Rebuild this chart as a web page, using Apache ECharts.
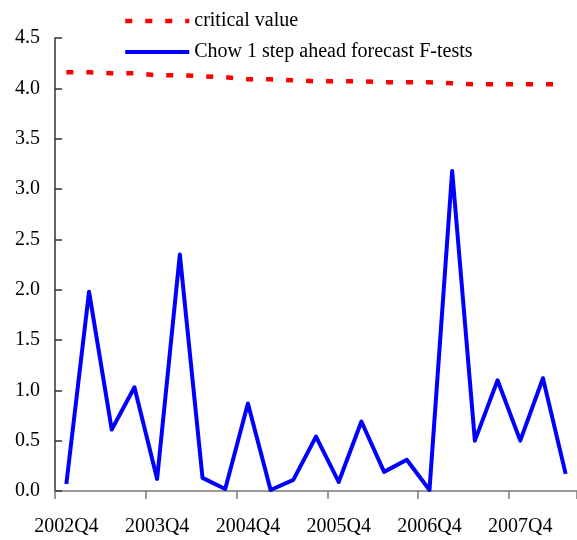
<!DOCTYPE html>
<html>
<head>
<meta charset="utf-8">
<script src="https://cdn.jsdelivr.net/npm/echarts@6/dist/echarts.min.js"></script>
<style>
  html, body { margin: 0; padding: 0; background: #fff; }
  #chart { width: 577px; height: 540px; }
</style>
</head>
<body>
<div id="chart"></div>
<script>
// Quarterly categories, 2002Q4 .. 2008Q2
const quarters = [
  '2002Q4', '2003Q1', '2003Q2', '2003Q3', '2003Q4', '2004Q1', '2004Q2', '2004Q3',
  '2004Q4', '2005Q1', '2005Q2', '2005Q3', '2005Q4', '2006Q1', '2006Q2', '2006Q3',
  '2006Q4', '2007Q1', '2007Q2', '2007Q3', '2007Q4', '2008Q1', '2008Q2'
];

// 5% critical value of the F-test
const criticalValue = [
  4.16, 4.16, 4.15, 4.15, 4.13, 4.13, 4.12, 4.11, 4.09, 4.09, 4.08, 4.07,
  4.07, 4.07, 4.06, 4.06, 4.06, 4.05, 4.04, 4.04, 4.04, 4.04, 4.04
];

// Chow 1 step ahead forecast F-test statistics
const chowF = [
  0.07, 1.98, 0.61, 1.03, 0.12, 2.35, 0.13, 0.02, 0.87, 0.01, 0.11, 0.54,
  0.09, 0.69, 0.19, 0.31, 0.01, 3.18, 0.50, 1.10, 0.50, 1.12, 0.17
];

const serif = "'Liberation Serif', 'Times New Roman', serif";

const redStyle = { color: '#ff0000', width: 4.5, type: [7, 13], cap: 'butt' };
const blueStyle = { color: '#0000ff', width: 4, join: 'round' };

const chart = echarts.init(document.getElementById('chart'), null, { renderer: 'canvas' });

chart.setOption({
  animation: false,
  backgroundColor: '#ffffff',
  textStyle: { fontFamily: serif },
  legend: {
    orient: 'vertical',
    left: 118,
    top: 6,
    itemWidth: 64,
    itemHeight: 14,
    itemGap: 11,
    textStyle: { fontFamily: serif, fontSize: 20, color: '#000', lineHeight: 20 },
    data: [
      { name: 'critical value', itemStyle: { opacity: 0 }, lineStyle: redStyle },
      { name: 'Chow 1 step ahead forecast F-tests', itemStyle: { opacity: 0 }, lineStyle: blueStyle }
    ]
  },
  grid: { left: 55, right: 0, top: 38, bottom: 49, containLabel: false },
  xAxis: {
    type: 'category',
    data: quarters,
    boundaryGap: true,
    axisLine: { lineStyle: { color: '#777', width: 1.5 } },
    axisTick: { show: true, inside: false, length: 8, interval: 3, lineStyle: { color: '#777', width: 1.5 } },
    axisLabel: { interval: 3, margin: 26, fontFamily: serif, fontSize: 20, color: '#000' },
    splitLine: { show: false }
  },
  yAxis: {
    type: 'value',
    min: 0,
    max: 4.5,
    interval: 0.5,
    axisLine: { show: true, lineStyle: { color: '#333', width: 1.5 } },
    axisTick: { show: true, inside: true, length: 7, lineStyle: { color: '#333', width: 1.5 } },
    axisLabel: {
      margin: 15, fontFamily: serif, fontSize: 20, color: '#000',
      formatter: v => v.toFixed(1)
    },
    splitLine: { show: false }
  },
  series: [
    {
      name: 'critical value',
      type: 'line',
      data: criticalValue,
      symbol: 'none',
      lineStyle: redStyle,
      itemStyle: { color: '#ff0000' },
      z: 2
    },
    {
      name: 'Chow 1 step ahead forecast F-tests',
      type: 'line',
      data: chowF,
      symbol: 'none',
      lineStyle: blueStyle,
      itemStyle: { color: '#0000ff' },
      z: 3
    }
  ]
});
</script>
</body>
</html>
